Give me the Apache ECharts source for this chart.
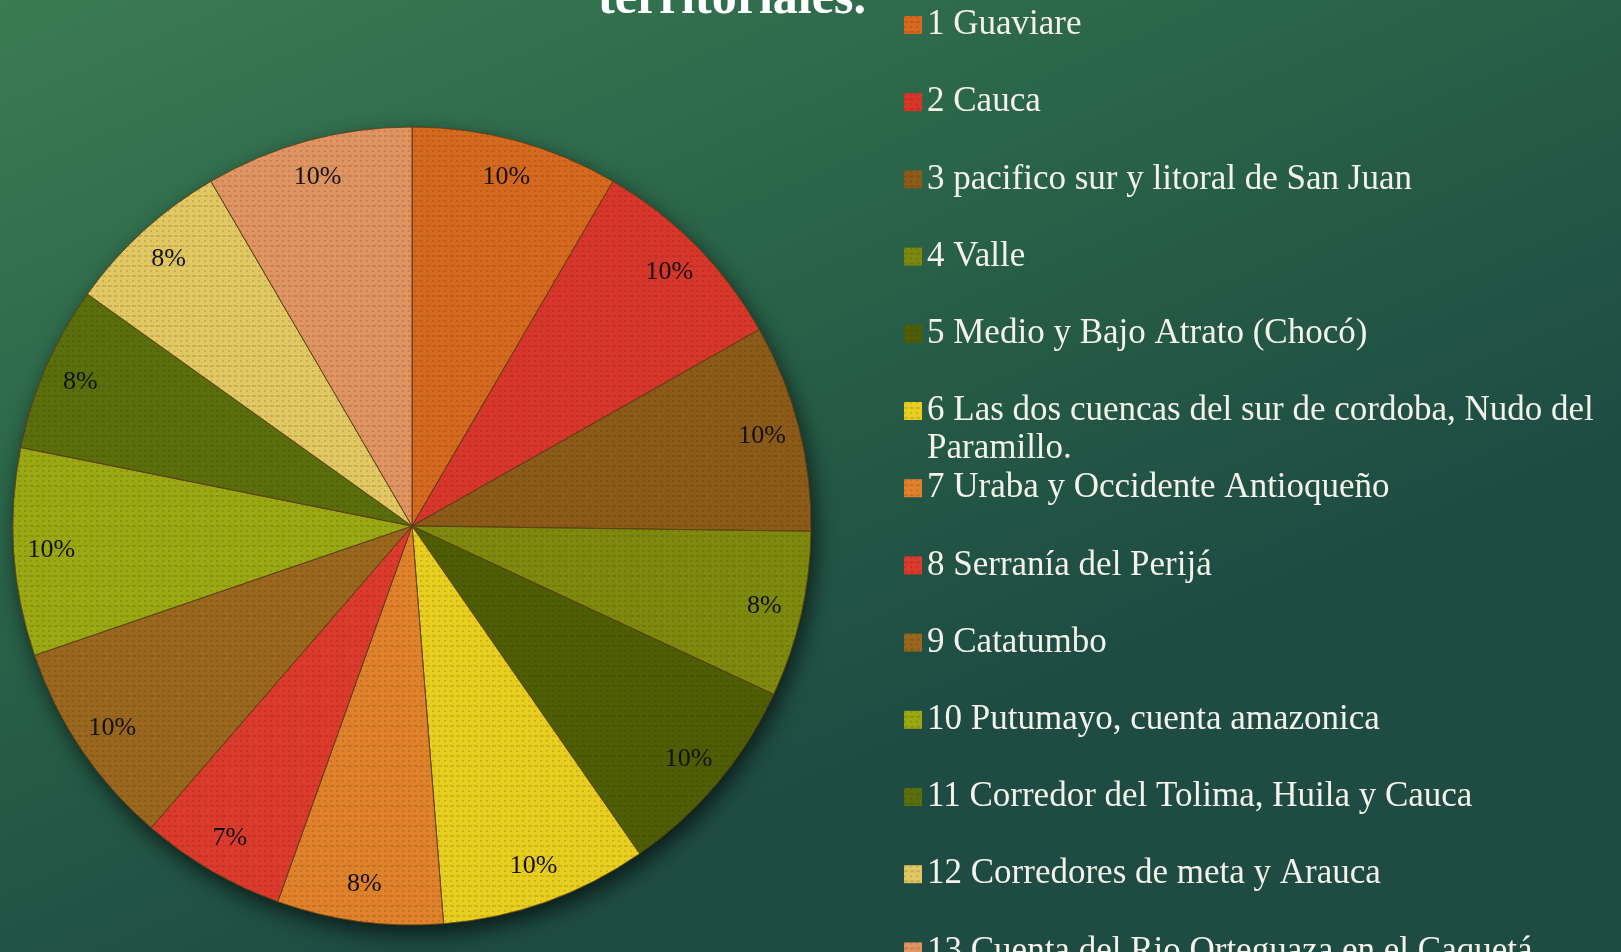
<!DOCTYPE html>
<html>
<head>
<meta charset="utf-8">
<style>
html,body{margin:0;padding:0;background:#2a6248;}
#chart{width:1621px;height:952px;}
</style>
<script src="https://cdn.jsdelivr.net/npm/echarts@6/dist/echarts.min.js"></script>
</head>
<body>
<div id="chart"></div>
<script>
const titleText = 'territoriales.';
const categories = [
  '1 Guaviare',
  '2 Cauca',
  '3 pacifico sur y litoral de San Juan',
  '4 Valle',
  '5 Medio y Bajo Atrato (Chocó)',
  '6 Las dos cuencas del sur de cordoba, Nudo del Paramillo.',
  '7 Uraba y Occidente Antioqueño',
  '8 Serranía del Perijá',
  '9 Catatumbo',
  '10 Putumayo, cuenta amazonica',
  '11 Corredor del Tolima, Huila y Cauca',
  '12 Corredores de meta y Arauca',
  '13 Cuenta del Rio Orteguaza en el Caquetá'
];
const values = [10, 10, 10, 8, 10, 10, 8, 7, 10, 10, 8, 8, 10];
const colors = ['#D5691F', '#D8362A', '#8C5A19', '#7D8A0D', '#4E5E05', '#E8CF1F', '#E0822B',
                '#DC3A2C', '#9A671E', '#9AA813', '#5A6E0C', '#E2C862', '#DF9462'];

const chart = echarts.init(document.getElementById('chart'), null, {renderer: 'canvas'});

const CX = 412, CY = 526, R = 399;
const FONT = '"Liberation Serif", "DejaVu Serif", serif';
const LEG_LEFT = 904, LEG_Y0 = 25, LEG_STEP = 77.2, LINE_H = 38;

const decal = {
  symbol: 'rect',
  symbolSize: 1,
  symbolKeepAspect: false,
  color: 'rgba(50,25,0,0.14)',
  dashArrayX: [[4, 2], [2, 4]],
  dashArrayY: [2, 3],
  rotation: 0
};

const pieData = categories.map((name, i) => ({
  name: name,
  value: values[i],
  itemStyle: {color: colors[i], decal: decal}
}));
const labelData = categories.map((name, i) => ({name: name, value: values[i]}));

const legends = categories.map((name, i) => {
  const twoLine = i === 5;
  return {
    orient: 'vertical',
    left: LEG_LEFT,
    top: LEG_Y0 + LEG_STEP * i - (twoLine ? LINE_H * 1.5 : LINE_H / 2),
    padding: 0,
    icon: 'rect',
    itemWidth: 18,
    itemHeight: 18,
    itemStyle: {borderWidth: 0},
    selectedMode: false,
    formatter: twoLine ? (n => '\n' + n) : '{name}',
    data: [{
      name: name,
      textStyle: twoLine ? {width: 688, overflow: 'break'} : {}
    }],
    textStyle: {
      color: '#F4F2EA',
      fontFamily: FONT,
      fontSize: 35,
      lineHeight: LINE_H
    }
  };
});

const option = {
  backgroundColor: {
    type: 'linear', x: 0, y: 0, x2: 0.25, y2: 1,
    colorStops: [
      {offset: 0, color: '#3B7B53'},
      {offset: 0.5, color: '#2A6449'},
      {offset: 1, color: '#1E4C43'}
    ]
  },
  animation: false,
  title: {
    text: titleText,
    left: 598,
    top: -25,
    padding: 0,
    textStyle: {
      color: '#FFFFFF',
      fontFamily: FONT,
      fontWeight: 'bold',
      fontSize: 50,
      lineHeight: 50
    }
  },
  legend: legends,
  series: [
    {
      type: 'pie',
      name: 'shadow',
      silent: true,
      legendHoverLink: false,
      center: [CX, CY],
      radius: [0, R],
      label: {show: false},
      labelLine: {show: false},
      itemStyle: {
        color: '#6b5a20',
        shadowBlur: 22,
        shadowOffsetX: 4,
        shadowOffsetY: 9,
        shadowColor: 'rgba(0,0,0,0.65)'
      },
      data: [{name: '', value: 1}],
      z: 1
    },
    {
      type: 'pie',
      name: 'Territorios',
      center: [CX, CY],
      radius: [0, R],
      startAngle: 90,
      clockwise: true,
      silent: true,
      label: {show: false},
      labelLine: {show: false},
      itemStyle: {borderColor: 'rgba(90,60,20,0.55)', borderWidth: 1},
      emphasis: {disabled: true},
      data: pieData,
      z: 2
    },
    {
      type: 'pie',
      name: 'labels',
      center: [CX, CY],
      radius: [318, R],
      startAngle: 90,
      clockwise: true,
      silent: true,
      legendHoverLink: false,
      itemStyle: {color: 'rgba(0,0,0,0)'},
      label: {
        show: true,
        position: 'inside',
        formatter: '{c}%',
        color: '#111111',
        fontFamily: FONT,
        fontSize: 26
      },
      labelLine: {show: false},
      emphasis: {disabled: true},
      data: labelData,
      z: 3
    }
  ]
};
chart.setOption(option);
</script>
</body>
</html>
